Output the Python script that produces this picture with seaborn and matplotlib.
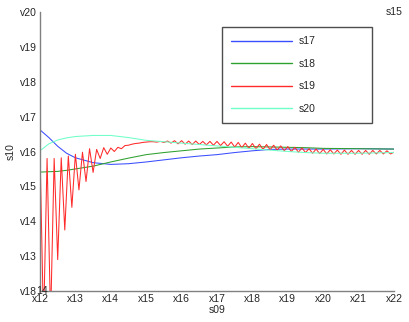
import seaborn as sns
import matplotlib
matplotlib.use("Agg")
import matplotlib.pyplot as plt
from matplotlib.lines import Line2D
import pandas as pd

# data
x_smooth = [12, 12.25, 12.5, 12.75, 13, 13.5, 14, 14.5, 15, 15.5, 16, 16.5,
            17, 17.5, 18, 18.5, 19, 19.5, 20, 21, 22]
s17 = [16.62, 16.40, 16.15, 15.95, 15.82, 15.68, 15.63, 15.65, 15.70, 15.76, 15.82, 15.87,
       15.91, 15.97, 16.02, 16.06, 16.07, 16.07, 16.07, 16.08, 16.07]
s18 = [15.41, 15.42, 15.43, 15.46, 15.50, 15.58, 15.70, 15.81, 15.91, 15.97, 16.02, 16.07,
       16.10, 16.13, 16.14, 16.13, 16.12, 16.11, 16.09, 16.08, 16.07]
s20 = [16.02, 16.22, 16.33, 16.39, 16.43, 16.46, 16.46, 16.40, 16.32, 16.28, 16.24, 16.20,
       16.16, 16.12, 16.08, 16.04, 16.00, 15.97, 15.95, 15.95, 15.97]

x_red = [round(12 + 0.1 * i, 1) for i in range(101)]
s19 = [16.00, 11.00, 15.80, 11.20, 15.80, 12.90, 15.82, 13.75, 15.87, 14.40,
       15.92, 14.90, 15.98, 15.14, 16.08, 15.40, 16.06, 15.80, 16.11, 15.92,
       16.10, 16.00, 16.12, 16.08, 16.17, 16.18, 16.21, 16.23, 16.24, 16.26,
       16.27, 16.28, 16.28, 16.27, 16.29, 16.26, 16.30, 16.24, 16.31, 16.22,
       16.31, 16.21, 16.30, 16.20, 16.30, 16.20, 16.29, 16.19, 16.29, 16.18,
       16.29, 16.17, 16.28, 16.15, 16.27, 16.13, 16.26, 16.11, 16.24, 16.09,
       16.23, 16.08, 16.21, 16.06, 16.20, 16.05, 16.18, 16.04, 16.16, 16.02,
       16.14, 16.00, 16.12, 15.98, 16.10, 15.97, 16.08, 15.95, 16.07, 15.94,
       16.06, 15.93, 16.05, 15.93, 16.04, 15.92, 16.04, 15.92, 16.03, 15.92,
       16.03, 15.92, 16.03, 15.92, 16.03, 15.93, 16.03, 15.93, 16.02, 15.93,
       15.98]

names = ["s17", "s18", "s19", "s20"]
colors = ["#3a4dff", "#2ea02e", "#ff2a2a", "#6fffc8"]

x_ticks = list(range(12, 23))
x_labels = ["x12", "x13", "x14", "x15", "x16", "x17", "x18", "x19", "x20", "x21", "x22"]
y_ticks = list(range(12, 21))
y_labels = ["v18", "v13", "v14", "v15", "v16", "v17", "v18", "v19", "v20"]

sns.set_theme(style="white")
plt.rcParams["font.family"] = ["Liberation Sans", "DejaVu Sans"]
plt.rcParams["font.size"] = 7.5

fig = plt.figure(figsize=(4.09, 3.22), dpi=100)
ax = fig.add_axes([40 / 409, 1 - 291 / 322, 354 / 409, 279 / 322])

lw = 0.75
sns.lineplot(x=x_smooth, y=s17, ax=ax, color=colors[0], lw=lw)
sns.lineplot(x=x_smooth, y=s18, ax=ax, color=colors[1], lw=lw)
sns.lineplot(x=x_red, y=s19, ax=ax, color=colors[2], lw=lw)
sns.lineplot(x=x_smooth, y=s20, ax=ax, color=colors[3], lw=lw)

ax.set_xlim(12, 22)
ax.set_ylim(12, 20)
ax.set_xticks(x_ticks)
ax.set_xticklabels(x_labels, fontsize=7.5)
ax.set_yticks(y_ticks)
ax.set_yticklabels(y_labels, fontsize=7.5)
ax.tick_params(direction="in", length=3, width=0.8, color="#808080", pad=2)

for side in ["top", "right"]:
    ax.spines[side].set_visible(False)
for side in ["left", "bottom"]:
    ax.spines[side].set_color("#808080")
    ax.spines[side].set_linewidth(1.0)

ax.set_xlabel("s09", fontsize=7.5, labelpad=1)
ax.set_ylabel("s10", fontsize=7.5, labelpad=3)
ax.text(1.0, 1.0, "s15", transform=ax.transAxes, ha="center", va="center", fontsize=7.5)
ax.text(-0.011, 0.0, "14", transform=ax.transAxes, ha="left", va="center", fontsize=7.5)

handles = [Line2D([], [], color=c, lw=1.0) for c in colors]
leg = ax.legend(handles=handles, labels=names,
                loc="upper left", bbox_to_anchor=(0.514, 0.946, 0.424, 0.0), mode="expand",
                frameon=True, fancybox=False, fontsize=7.5, handlelength=5.8,
                handletextpad=0.7, labelspacing=1.2, borderpad=0.9, borderaxespad=0)
leg.get_frame().set_edgecolor("#202020")
leg.get_frame().set_linewidth(1.0)

fig.savefig("out.png", dpi=100)
